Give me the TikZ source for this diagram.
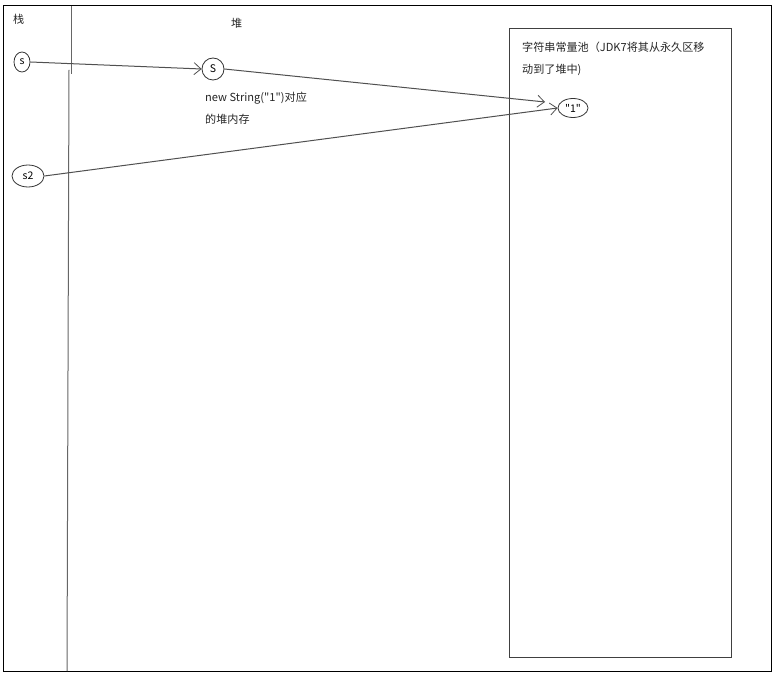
\documentclass[tikz,border=0pt]{standalone}
\usepackage{fontspec}
\newfontfamily\cjkf{Noto Sans CJK SC}
\usetikzlibrary{arrows.meta,shapes.geometric}
\definecolor{ln}{HTML}{505050}
\tikzset{
  x=1pt, y=-1pt,
  lbl/.style={inner sep=0pt, anchor=west, font=\cjkf\fontsize{11.1}{13}\selectfont, text=black!85},
  oval/.style={draw=black!80, ellipse, inner sep=0pt, line width=0.8pt, font=\cjkf\fontsize{10.5}{12}\selectfont},
  link/.style={draw=ln, line width=1pt, -{Straight Barb[length=7pt,width=12pt,line width=0.8pt]}},
}
\begin{document}
\begin{tikzpicture}
\useasboundingbox (0,0) rectangle (779,676);
\fill[white] (0,0) rectangle (779,676);
% outer frame
\draw[line width=1pt, black] (3,6) rectangle (771,671);
% stack divider
\draw[draw=black!60, line width=1pt] (71,6) -- (71,74);
\draw[draw=black!60, line width=1pt] (69,70) -- (67,671);
% string pool box
\draw[draw=black!75, line width=1pt] (509,29) rectangle (731,657);
% labels
\node[lbl] (stack) at (13,19) {栈};
\node[lbl] (heap) at (231,23) {堆};
\node[lbl] (heapobj1) at (205,98) {new String("1")对应};
\node[lbl] (heapobj2) at (205,119) {的堆内存};
\node[lbl] (pool1) at (522,47) {字符串常量池（JDK7将其从永久区移};
\node[lbl] (pool2) at (522,70) {动到了堆中)};
% nodes
\node[oval, minimum width=16pt, minimum height=20pt] (s) at (22,62) {s};
\node[oval, minimum width=22pt, minimum height=22pt] (S) at (213,69) {S};
\node[oval, minimum width=32pt, minimum height=22pt] (s2) at (28,176) {s2};
\node[oval, minimum width=30pt, minimum height=19pt] (one) at (573,108) {"1"};
% connectors
\coordinate (tipA) at (545,102);
\draw[link] (s.east) -- (S.west);
\draw[link] (S.east) -- (tipA);
\draw[link] (s2.east) -- (one.west);
\end{tikzpicture}
\end{document}
